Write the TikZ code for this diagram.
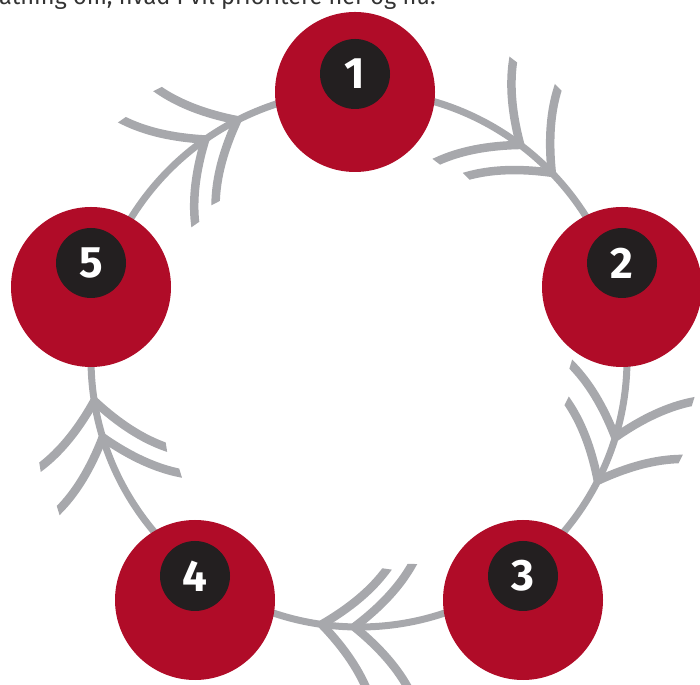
\documentclass[tikz,border=0pt]{standalone}
\usepackage{fontspec}
\setmainfont{Fira Sans}
\definecolor{ringgray}{RGB}{167,168,172}
\definecolor{berry}{RGB}{176,12,40}
\definecolor{ink}{RGB}{35,31,32}
\definecolor{txt}{RGB}{51,51,51}
\tikzset{
  ringline/.style={draw=ringgray, line width=7pt},
  barb/.style={draw=ringgray, line width=8.5pt, line cap=butt},
  bigdot/.style={circle, fill=berry, minimum size=160pt, inner sep=0pt},
  numdot/.style={circle, fill=ink, minimum size=70pt, inner sep=0pt, text=white,
    font=\fontsize{44}{44}\selectfont\bfseries},
  toptext/.style={anchor=base west, inner sep=0pt, text=txt, font=\fontsize{23.5}{28}\selectfont},
}
\newcommand{\chevron}[1]{%
  \begin{scope}[shift={(359,325)}, rotate=#1]
    \begin{scope}
      \clip (262,-30) rectangle (332,130);
      \draw[barb] (268,0) .. controls (288.5,26.2) and (309.8,45.2) .. (332,57) -- (350,66.6);
    \end{scope}
    \begin{scope}
      \clip (274,-30) rectangle (204,130);
      \draw[barb] (268,0) .. controls (247.5,26.2) and (226.2,45.2) .. (204,57) -- (186,66.6);
    \end{scope}
  \end{scope}}
\begin{document}
\begin{tikzpicture}[x=1pt,y=1pt]
  \clip (0,0) rectangle (700,684);
  \useasboundingbox (0,0) rectangle (700,684);
  \node[toptext] (intro) at (-1,679) {athing om, hvad I vil prioritere her og nu.};
  \coordinate (mid) at (359,325);
  \draw[ringline] (mid) circle (268);
  \chevron{53}\chevron{44}
  \chevron{-17}\chevron{-27}
  \chevron{-91}\chevron{-98}
  \chevron{197}\chevron{189}
  \chevron{125}\chevron{117}
  \node[bigdot] (c1) at (355,592) {};
  \node[bigdot] (c2) at (622,397) {};
  \node[bigdot] (c3) at (523,84) {};
  \node[bigdot] (c4) at (195,84) {};
  \node[bigdot] (c5) at (91,397) {};
  \node[numdot] (n1) at (355,610) {1};
  \node[numdot] (n2) at (622,421) {2};
  \node[numdot] (n3) at (523,108) {3};
  \node[numdot] (n4) at (195,108) {4};
  \node[numdot] (n5) at (91,421) {5};
\end{tikzpicture}
\end{document}
